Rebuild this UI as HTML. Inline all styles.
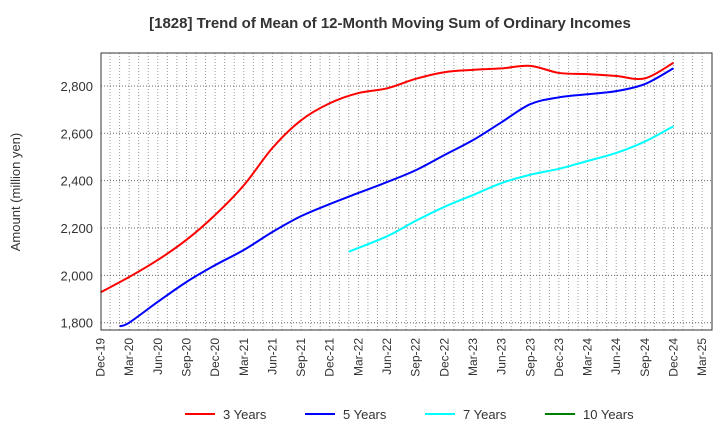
<!DOCTYPE html>
<html><head><meta charset="utf-8"><style>
body{margin:0;background:#fff;font-family:"Liberation Sans",sans-serif}
svg text{font-family:"Liberation Sans",sans-serif}
</style></head><body>
<svg id="c" width="720" height="440">
<text x="390" y="28" text-anchor="middle" font-size="15" font-weight="bold" fill="#333">[1828]  Trend of Mean of 12-Month Moving Sum of Ordinary Incomes</text>
<text transform="translate(20,192) rotate(-90)" text-anchor="middle" font-size="13" fill="#333">Amount (million yen)</text>
<g id="grid"></g><g id="series"></g><g id="axes"></g><g id="legend"></g>
</svg>
<script>
const xLabels=["Dec-19","Mar-20","Jun-20","Sep-20","Dec-20","Mar-21","Jun-21","Sep-21","Dec-21","Mar-22","Jun-22","Sep-22","Dec-22","Mar-23","Jun-23","Sep-23","Dec-23","Mar-24","Jun-24","Sep-24","Dec-24","Mar-25"];
const yTicks=[1800,2000,2200,2400,2600,2800];
const names=["3 Years","5 Years","7 Years","10 Years"];
const colors=["#ff0000","#0000ff","#00ffff","#008000"];
const months3=[0,3,6,9,12,15,18,21,24,27,30,33,36,39,42,45,48,51,54,57,60];
const vals3=[1928,1993,2065,2150,2255,2380,2538,2655,2727,2770,2790,2830,2858,2868,2874,2885,2855,2850,2842,2832,2898];
const months5=[2,3,6,9,12,15,18,21,24,27,30,33,36,39,42,45,48,51,54,57,60];
const vals5=[1785,1800,1888,1972,2043,2107,2183,2250,2301,2348,2394,2444,2508,2571,2647,2723,2752,2765,2778,2808,2875];
const months7=[26,30,33,36,39,42,45,48,51,54,57,60];
const vals7=[2100,2165,2230,2289,2339,2390,2425,2450,2483,2517,2565,2630];
const NS="http://www.w3.org/2000/svg";
const L=101,R=712,T=53,B=330;
const xs=m=>100.5+m*9.55;
const ys=v=>322.7-(v-1800)/200*47.35;
function mk(t,a,p){const e=document.createElementNS(NS,t);for(const k in a)e.setAttribute(k,a[k]);p.appendChild(e);return e;}
const grid=document.getElementById('grid'),axes=document.getElementById('axes'),ser=document.getElementById('series'),leg=document.getElementById('legend');
for(let m=0;m<=63;m++){const x=xs(m);if(x<=L||x>=R)continue;
 const l=mk('line',{x1:x,x2:x,y1:T,y2:B,stroke:'#999','stroke-width':1,'stroke-dasharray':'1,2'},grid);
 
 }
yTicks.forEach(v=>{const y=ys(v);
 const l=mk('line',{x1:L,x2:R,y1:y,y2:y,stroke:'#666','stroke-width':1,'stroke-dasharray':'1,2'},grid);
 
 
 const t=mk('text',{x:L-8,y:y+5,'text-anchor':'end','font-size':13,fill:'#333'},axes);t.textContent=v.toLocaleString('en-US');
 
 });
const fr=mk('rect',{x:L,y:T,width:R-L,height:B-T,fill:'none',stroke:'#333','stroke-width':1},axes);


xLabels.forEach((s,i)=>{const x=xs(i*3);
 const t=mk('text',{transform:`translate(${x+4},${B+8}) rotate(-90)`,'text-anchor':'end','font-size':12,fill:'#333'},axes);t.textContent=s;
 
 });
function path(ms,vs){const p=ms.map((m,i)=>[xs(m),ys(vs[i])]);let d=`M${p[0][0]},${p[0][1]}`;
 for(let i=0;i<p.length-1;i++){const p0=p[Math.max(0,i-1)],p1=p[i],p2=p[i+1],p3=p[Math.min(p.length-1,i+2)];
  d+=`C${p1[0]+(p2[0]-p0[0])/6},${p1[1]+(p2[1]-p0[1])/6} ${p2[0]-(p3[0]-p1[0])/6},${p2[1]-(p3[1]-p1[1])/6} ${p2[0]},${p2[1]}`;}return d;}
[[months3,vals3,0,'line-3-years'],[months5,vals5,1,'line-5-years'],[months7,vals7,2,'line-7-years']].forEach(([m,v,c,n])=>{
 const e=mk('path',{d:path(m,v),fill:'none',stroke:colors[c],'stroke-width':2},ser);
 
 });
const lx=[185,305,425,545];
names.forEach((n,i)=>{const g=mk('g',{},leg);
 
 
 mk('line',{x1:lx[i],x2:lx[i]+30,y1:414,y2:414,stroke:colors[i],'stroke-width':2},g);
 const t=mk('text',{x:lx[i]+38,y:419,'font-size':13,fill:'#333'},g);t.textContent=n;});
</script>
</body></html>
